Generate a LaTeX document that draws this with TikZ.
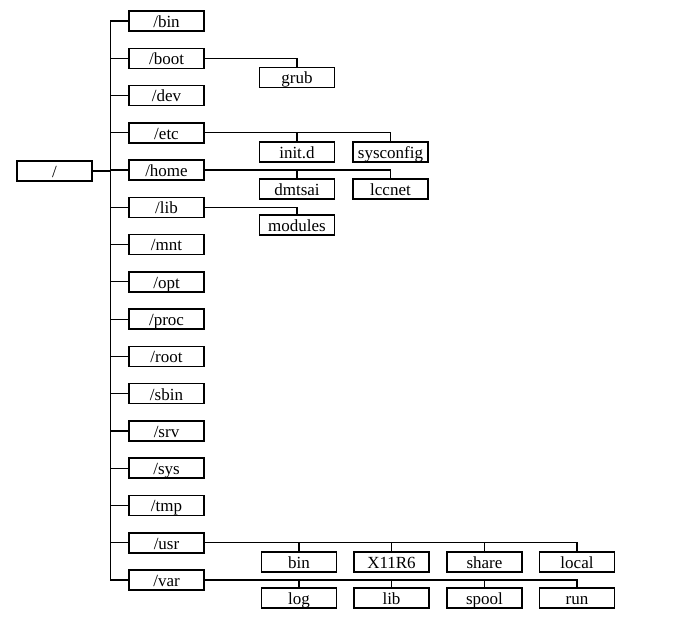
\documentclass[tikz,border=0pt]{standalone}
\usepackage{fontspec}
\setmainfont{Liberation Serif}
\begin{document}
\begin{tikzpicture}[x=1pt,y=-1pt,
  dirbox/.style={draw=black, line width=1.5pt, minimum width=75pt, minimum height=20pt,
    inner sep=0pt, text height=14.3pt, text depth=1.7pt,
    font=\fontsize{17}{19}\selectfont},
  link/.style={draw=black, line width=1.2pt}]
\useasboundingbox (0,0) rectangle (683,620);
\node[dirbox] (root) at (54.5,171) {/};
\foreach \n/\t [count=\i from 0] in {bin/bin,boot/boot,dev/dev,etc/etc,home/home,lib/lib,mnt/mnt,opt/opt,proc/proc,rootd/root,sbin/sbin,srv/srv,sys/sys,tmp/tmp,usr/usr,var/var}{
  \node[dirbox] (\n) at (166.5,{21+37.27*\i}) {/\t};
}
\coordinate (tr) at (110.5,0);
% trunk
\draw[link] (bin.west) -- (bin.west -| tr) -- (var.west -| tr) -- (var.west);
\draw[link] (root.east) -- (root.east -| tr);
\foreach \n in {boot,dev,etc,home,lib,mnt,opt,proc,rootd,sbin,srv,sys,tmp,usr}{
  \draw[link] (\n.west) -- (\n.west -| tr);
}
% children
\node[dirbox] (grub) at (297,77.5) {grub};
\node[dirbox] (initd) at (297,152) {init.d};
\node[dirbox] (sysconfig) at (390.5,152) {sysconfig};
\node[dirbox] (dmtsai) at (297,189) {dmtsai};
\node[dirbox] (lccnet) at (390.5,189) {lccnet};
\node[dirbox] (modules) at (297,225) {modules};
\node[dirbox] (ubin) at (299,562) {bin};
\node[dirbox] (x11) at (391.5,562) {X11R6};
\node[dirbox] (share) at (484.5,562) {share};
\node[dirbox] (local) at (577,562) {local};
\node[dirbox] (log) at (299,598) {log};
\node[dirbox] (vlib) at (391.5,598) {lib};
\node[dirbox] (spool) at (484.5,598) {spool};
\node[dirbox] (run) at (577,598) {run};
\draw[link] (boot.east) -| (grub.north);
\draw[link] (etc.east) -| (sysconfig.north);
\draw[link] (initd.north) -- (initd.north |- etc.east);
\draw[link] (home.east) -| (lccnet.north);
\draw[link] (dmtsai.north) -- (dmtsai.north |- home.east);
\draw[link] (lib.east) -| (modules.north);
\draw[link] (usr.east) -| (local.north);
\foreach \c in {ubin,x11,share}{\draw[link] (\c.north) -- (\c.north |- usr.east);}
\draw[link] (var.east) -| (run.north);
\foreach \c in {log,vlib,spool}{\draw[link] (\c.north) -- (\c.north |- var.east);}
\end{tikzpicture}
\end{document}
